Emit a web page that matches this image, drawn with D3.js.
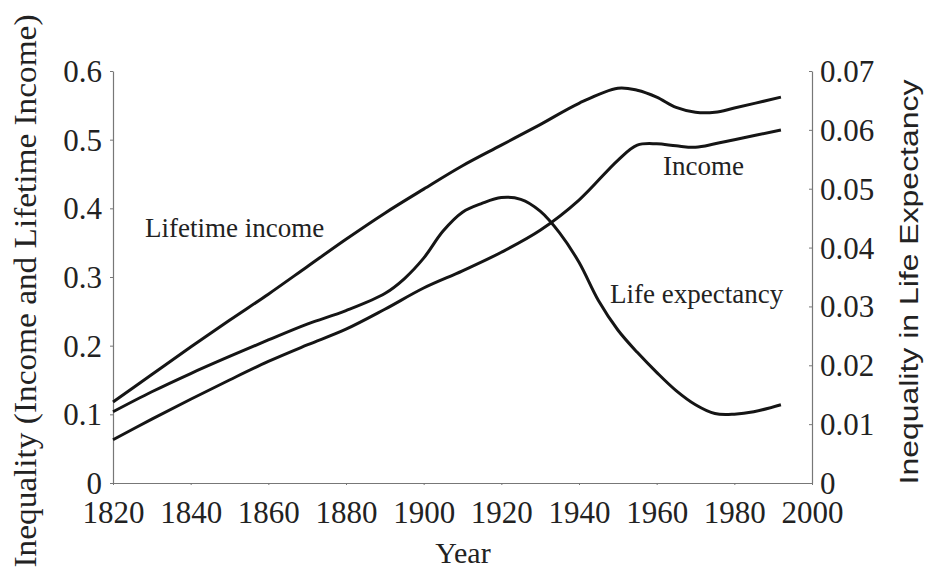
<!DOCTYPE html>
<html>
<head>
<meta charset="utf-8">
<script src="https://cdn.jsdelivr.net/npm/d3@7"></script>
<style>
  html, body { margin: 0; padding: 0; background: #fff; }
  svg { display: block; }
</style>
</head>
<body>
<svg></svg>
<script>
const [svgWidth, svgHeight] = [930, 569];
const svg = d3.select('svg')
  .attr('width', svgWidth)
  .attr('height', svgHeight);

// data
const years = [1820, 1830, 1840, 1850, 1860, 1870, 1880, 1890, 1900, 1910,
  1920, 1930, 1940, 1950, 1955, 1960, 1965, 1970, 1975, 1980, 1992];
const lifetimeIncome = [0.118, 0.158, 0.198, 0.237, 0.275, 0.315, 0.355, 0.393, 0.428, 0.462,
  0.492, 0.522, 0.553, 0.575, 0.572, 0.562, 0.547, 0.540, 0.540, 0.546, 0.562];
const income = [0.063, 0.093, 0.122, 0.150, 0.177, 0.201, 0.224, 0.253, 0.284, 0.309,
  0.336, 0.368, 0.412, 0.470, 0.492, 0.494, 0.491, 0.489, 0.494, 0.500, 0.514];

const lifeYears = [1820, 1830, 1840, 1850, 1860, 1870, 1880, 1890, 1895, 1900, 1905, 1910,
  1915, 1920, 1925, 1930, 1935, 1940, 1945, 1950, 1955, 1960, 1965, 1970, 1975, 1980, 1985, 1992];
const lifeExpectancy = [0.0121, 0.0155, 0.0186, 0.0215, 0.0243, 0.0270, 0.0293, 0.0322, 0.0347,
  0.0382, 0.0428, 0.0460, 0.0475, 0.0485, 0.0482, 0.0462, 0.0425, 0.0375, 0.0310, 0.0260,
  0.0222, 0.0188, 0.0157, 0.0133, 0.0118, 0.0117, 0.0121, 0.0133];

const xTicks = [1820, 1840, 1860, 1880, 1900, 1920, 1940, 1960, 1980, 2000];
const leftTicks = [0, 0.1, 0.2, 0.3, 0.4, 0.5, 0.6];
const rightTicks = [0, 0.01, 0.02, 0.03, 0.04, 0.05, 0.06, 0.07];

const plot = { left: 113, right: 812, top: 71, bottom: 483 };
const serif = '"Liberation Serif", "Times New Roman", serif';
const sans = '"Liberation Sans", Arial, sans-serif';

const x = d3.scaleLinear().domain([1820, 2000]).range([plot.left, plot.right]);
const yLeft = d3.scaleLinear().domain([0, 0.6]).range([plot.bottom, plot.top]);
const yRight = d3.scaleLinear().domain([0, 0.07]).range([plot.bottom, plot.top]);

const fmt = (digits) => d => d === 0 ? '0' : d3.format(`.${digits}f`)(d);

// axes
const xAxis = svg.append('g')
  .attr('transform', `translate(0, ${plot.bottom})`)
  .call(d3.axisBottom(x).tickValues(xTicks).tickSize(2).tickSizeOuter(0)
    .tickFormat(d3.format('d')));
const leftAxis = svg.append('g')
  .attr('transform', `translate(${plot.left}, 0)`)
  .call(d3.axisLeft(yLeft).tickValues(leftTicks).tickSize(3).tickSizeOuter(0)
    .tickFormat(fmt(1)));
const rightAxis = svg.append('g')
  .attr('transform', `translate(${plot.right}, 0)`)
  .call(d3.axisRight(yRight).tickValues(rightTicks).tickSize(-3).tickSizeOuter(0)
    .tickFormat(fmt(2)));

[xAxis, leftAxis, rightAxis].forEach(g => {
  g.select('.domain').attr('stroke', '#777').attr('stroke-width', 1.2);
  g.selectAll('.tick line').attr('stroke', '#777');
  g.selectAll('text')
    .attr('font-family', serif)
    .attr('font-size', 31)
    .attr('fill', '#222');
});
xAxis.selectAll('text').attr('y', 18).attr('dy', '0.71em');
leftAxis.selectAll('text').attr('x', -11).attr('dy', '0.34em');
rightAxis.selectAll('text').attr('x', 8).attr('dy', '0.34em');

// lines
const lineLeft = d3.line()
  .x(d => x(d[0]))
  .y(d => yLeft(d[1]))
  .curve(d3.curveCatmullRom);
const lineRight = d3.line()
  .x(d => x(d[0]))
  .y(d => yRight(d[1]))
  .curve(d3.curveCatmullRom);

const series = [
  { values: d3.zip(years, lifetimeIncome), line: lineLeft },
  { values: d3.zip(years, income), line: lineLeft },
  { values: d3.zip(lifeYears, lifeExpectancy), line: lineRight }
];

svg.append('g')
  .selectAll('path')
  .data(series)
  .join('path')
  .attr('fill', 'none')
  .attr('stroke', '#151515')
  .attr('stroke-width', 3)
  .attr('stroke-linejoin', 'round')
  .attr('d', d => d.line(d.values));

// series labels
const labels = [
  { text: 'Lifetime income', x: 145, y: 237 },
  { text: 'Income', x: 663, y: 175 },
  { text: 'Life expectancy', x: 610, y: 303 }
];
svg.append('g')
  .selectAll('text')
  .data(labels)
  .join('text')
  .attr('x', d => d.x)
  .attr('y', d => d.y)
  .attr('font-family', serif)
  .attr('font-size', 27)
  .attr('fill', '#222')
  .text(d => d.text);

// axis titles
svg.append('text')
  .attr('x', 463)
  .attr('y', 563)
  .attr('text-anchor', 'middle')
  .attr('font-family', serif)
  .attr('font-size', 30)
  .attr('fill', '#222')
  .text('Year');

svg.append('text')
  .attr('transform', 'translate(36, 291) rotate(-90)')
  .attr('text-anchor', 'middle')
  .attr('font-family', serif)
  .attr('font-size', 31)
  .attr('textLength', 553)
  .attr('lengthAdjust', 'spacingAndGlyphs')
  .attr('fill', '#222')
  .text('Inequality (Income and Lifetime Income)');

svg.append('text')
  .attr('transform', 'translate(918, 282) rotate(-90)')
  .attr('text-anchor', 'middle')
  .attr('font-family', sans)
  .attr('font-size', 25)
  .attr('textLength', 405)
  .attr('lengthAdjust', 'spacingAndGlyphs')
  .attr('fill', '#222')
  .text('Inequality in Life Expectancy');
</script>
</body>
</html>
